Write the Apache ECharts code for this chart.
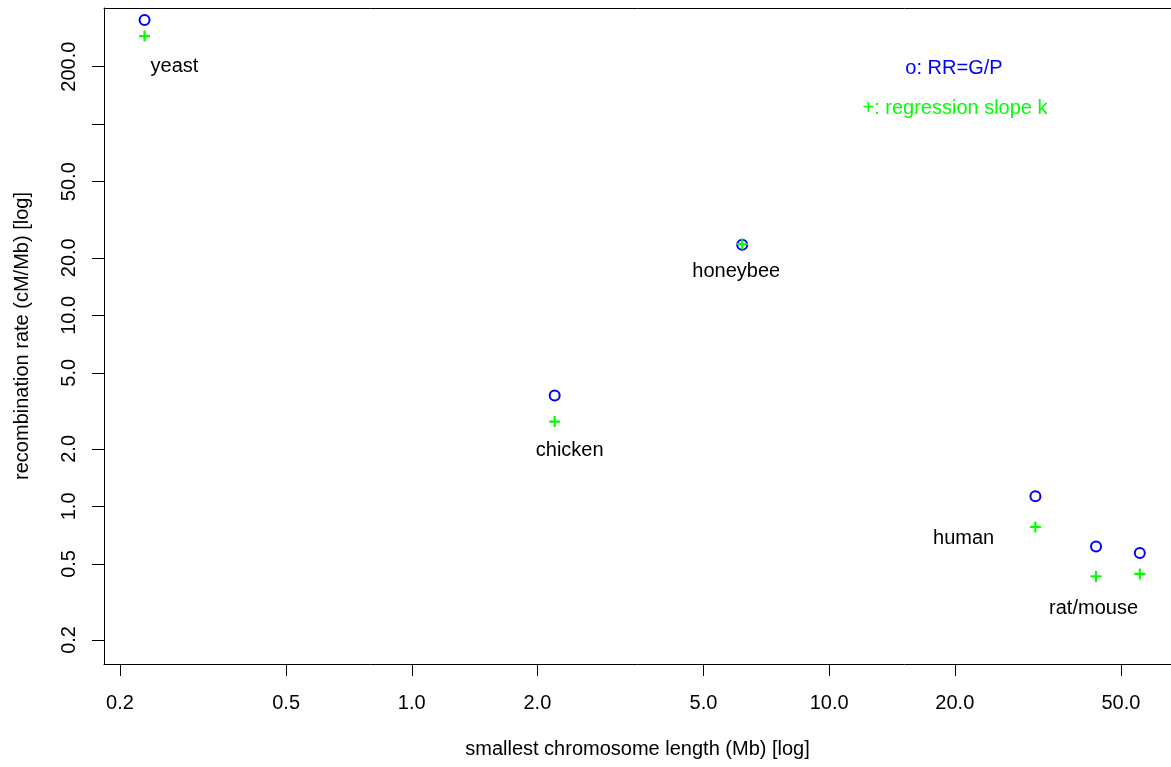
<!DOCTYPE html>
<html>
<head>
<meta charset="utf-8">
<script src="https://cdn.jsdelivr.net/npm/echarts@6/dist/echarts.min.js"></script>
<style>
  html, body { margin: 0; padding: 0; background: #fff; }
  #chart { width: 1171px; height: 767px; }
</style>
</head>
<body>
<div id="chart"></div>
<script>
// species order: yeast, chicken, honeybee, human, rat, mouse
const lengthMb = [0.229, 2.20, 6.19, 31.2, 43.6, 55.5];
const rrGP = [351, 3.80, 23.4, 1.13, 0.617, 0.570];
const slopeK = [289, 2.78, 23.6, 0.780, 0.430, 0.443];

// text annotations (label, x, y in data units)
const labelNames = ['yeast', 'chicken', 'honeybee', 'human', 'rat/mouse'];
const labelX = [0.270, 2.39, 5.99, 21.0, 43.0];
const labelY = [201, 1.95, 16.9, 0.683, 0.291];

const xTicks = [0.2, 0.5, 1, 2, 5, 10, 20, 50];
const yTicks = [0.2, 0.5, 1, 2, 5, 10, 20, 50, 100, 200];
const yTickLabels = [0.2, 0.5, 1, 2, 5, 10, 20, 50, 200];

const xRange = [0.1831, 65.92];
const yRange = [0.1497, 405.5];

const FONT = '"Liberation Sans", Arial, Helvetica, sans-serif';
const lg = Math.log10;

const chart = echarts.init(document.getElementById('chart'));

const pts = (ys) => lengthMb.map((x, i) => [lg(x), lg(ys[i])]);
const fmt = (v) => Math.pow(10, v).toFixed(1);

const option = {
  animation: false,
  backgroundColor: '#fff',
  textStyle: { fontFamily: FONT },
  grid: { left: 104, top: 8, right: 0, bottom: 103, show: false },
  xAxis: [
    {
      type: 'value',
      min: lg(xRange[0]), max: lg(xRange[1]),
      name: 'smallest chromosome length (Mb) [log]',
      nameLocation: 'middle', nameGap: 75,
      nameTextStyle: { fontSize: 20, color: '#000', fontFamily: FONT },
      axisLine: { show: true, onZero: false, lineStyle: { color: '#000', width: 1 } },
      axisTick: { show: true, length: 12, lineStyle: { color: '#000' }, customValues: xTicks.map(lg) },
      axisLabel: {
        fontSize: 20, color: '#000', margin: 29, fontFamily: FONT,
        customValues: xTicks.map(lg), formatter: fmt
      },
      splitLine: { show: false }
    },
    {
      // top frame line
      type: 'value', position: 'top',
      min: lg(xRange[0]), max: lg(xRange[1]),
      axisLine: { show: true, onZero: false, lineStyle: { color: '#000', width: 1 } },
      axisTick: { show: false }, axisLabel: { show: false }, splitLine: { show: false }
    }
  ],
  yAxis: {
    type: 'value',
    min: lg(yRange[0]), max: lg(yRange[1]),
    name: 'recombination rate (cM/Mb) [log]',
    nameLocation: 'middle', nameGap: 72, nameRotate: 90,
    nameTextStyle: { fontSize: 20, color: '#000', fontFamily: FONT },
    axisLine: { show: true, onZero: false, lineStyle: { color: '#000', width: 1 } },
    axisTick: { show: true, length: 12, lineStyle: { color: '#000' }, customValues: yTicks.map(lg) },
    axisLabel: {
      fontSize: 20, color: '#000', margin: 25, rotate: 90, fontFamily: FONT,
      customValues: yTickLabels.map(lg), formatter: fmt
    },
    splitLine: { show: false }
  },
  series: [
    {
      name: 'RR=G/P',
      type: 'scatter',
      symbol: 'emptyCircle',
      symbolSize: 10,
      itemStyle: { color: '#0000ff', borderColor: '#0000ff', borderWidth: 1.1, opacity: 1 },
      data: pts(rrGP),
      z: 2
    },
    {
      name: 'regression slope k',
      type: 'scatter',
      symbol: 'path://M4,0H6V4H10V6H6V10H4V6H0V4H4Z',
      symbolSize: 11,
      itemStyle: { color: '#00ff00', opacity: 1 },
      data: pts(slopeK),
      z: 3
    },
    {
      name: 'labels',
      type: 'scatter',
      symbolSize: 0,
      silent: true,
      itemStyle: { opacity: 1 },
      label: {
        show: true, position: 'inside', formatter: '{b}',
        fontSize: 20, color: '#000', opacity: 1, fontFamily: FONT
      },
      data: labelNames.map((n, i) => ({ name: n, value: [lg(labelX[i]), lg(labelY[i])] }))
    }
  ],
  graphic: [
    {
      type: 'text', x: 954, y: 68.5,
      style: { text: 'o: RR=G/P', font: '20px ' + FONT, fill: '#0000ff',
               textAlign: 'center', textVerticalAlign: 'middle', align: 'center', verticalAlign: 'middle' }
    },
    {
      type: 'text', x: 955, y: 108.5,
      style: { text: '+: regression slope k', font: '20px ' + FONT, fill: '#00ff00',
               textAlign: 'center', textVerticalAlign: 'middle', align: 'center', verticalAlign: 'middle' }
    }
  ]
};

chart.setOption(option);
</script>
</body>
</html>
